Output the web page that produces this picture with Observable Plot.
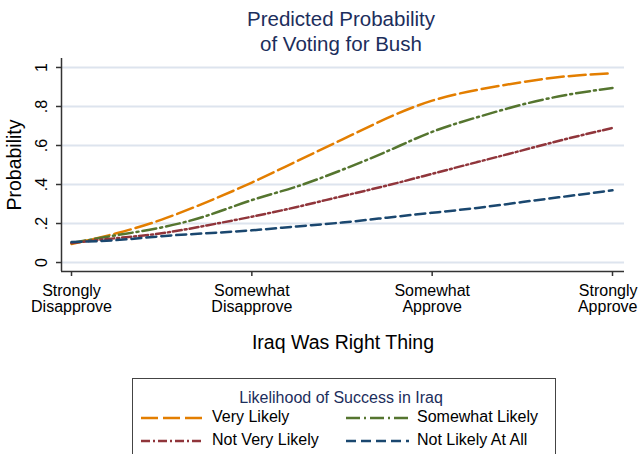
<!DOCTYPE html>
<html>
<head>
<meta charset="utf-8">
<script src="https://cdn.jsdelivr.net/npm/d3@7"></script>
<script src="https://cdn.jsdelivr.net/npm/@observablehq/plot@0.6"></script>
<style>
  html, body { margin: 0; padding: 0; background: #fff; }
  #wrap { position: relative; width: 638px; height: 454px; overflow: hidden; font-family: "Liberation Sans", Arial, sans-serif; }
  #title { position: absolute; left: 0; top: 6px; width: 682px; text-align: center; color: #1c2e5c; font-size: 20.5px; line-height: 25px; }
  #legend { position: absolute; left: 132px; top: 378px; width: 422px; height: 100px; border: 1px solid #444; background: #fff; }
  #legend .lt { position: absolute; left: 0; top: 10px; width: 416px; text-align: center; color: #1c2e5c; font-size: 16px; }
  #legend .item { position: absolute; font-size: 16px; color: #000; white-space: nowrap; }
  #legend svg { position: absolute; }
</style>
</head>
<body>
<div id="wrap">
  <div id="title">Predicted Probability<br>of Voting for Bush</div>
  <div id="chart"></div>
  <div id="legend"></div>
</div>
<script>
// ---- data ----
const xValues = [1, 1.25, 1.5, 1.75, 2, 2.25, 2.5, 2.75, 3, 3.25, 3.5, 3.75, 4];
const veryLikely      = [0.095, 0.15, 0.22, 0.31, 0.41, 0.52, 0.63, 0.74, 0.83, 0.885, 0.925, 0.955, 0.97];
const somewhatLikely  = [0.10, 0.14, 0.18, 0.24, 0.32, 0.39, 0.475, 0.57, 0.67, 0.745, 0.81, 0.86, 0.895];
const notVeryLikely   = [0.10, 0.125, 0.15, 0.19, 0.235, 0.285, 0.34, 0.395, 0.455, 0.515, 0.575, 0.635, 0.69];
const notLikelyAtAll  = [0.105, 0.115, 0.135, 0.15, 0.165, 0.185, 0.205, 0.23, 0.255, 0.28, 0.31, 0.34, 0.37];
const seriesNames = ["Very Likely", "Somewhat Likely", "Not Very Likely", "Not Likely At All"];
const xTicks = [1, 2, 3, 4];
const xTickLabels = ["Strongly\nDisapprove", "Somewhat\nDisapprove", "Somewhat\nApprove", "Strongly\nApprove"];
const yTicks = [0, 0.2, 0.4, 0.6, 0.8, 1];
const yTickLabels = ["0", ".2", ".4", ".6", ".8", "1"];

// ---- styles ----
const colors = ["#e37e00", "#55752f", "#90353b", "#1a476f"];
const dashes = ["17,5", "14,4,2,4", "9,3,2,3", "10,5"];

const seriesValues = [veryLikely, somewhatLikely, notVeryLikely, notLikelyAtAll];
const seriesRows = seriesNames.map((name, i) =>
  xValues.map((x, j) => ({series: name, x, y: seriesValues[i][j]}))
);

const xDomain = [0.9445, 4.0665];
const yDomain = [-0.046, 1.046];
const font = "Liberation Sans, Arial, sans-serif";
const tickLabel = (d) => xTickLabels[xTicks.indexOf(d)];

const chart = Plot.plot({
  width: 638,
  height: 454,
  marginLeft: 61,
  marginRight: 14,
  marginTop: 58,
  marginBottom: 183,
  style: {fontFamily: font, background: "transparent", color: "#000", fontSize: "15px"},
  x: {domain: xDomain},
  y: {domain: yDomain},
  marks: [
    Plot.gridY(yTicks, {stroke: "#dde4ee", strokeOpacity: 1, strokeWidth: 2}),
    Plot.ruleX([xDomain[0]], {stroke: "#333", strokeWidth: 1.5}),
    Plot.ruleY([yDomain[0]], {stroke: "#333", strokeWidth: 1.5}),
    Plot.axisY({
      ticks: yTicks,
      tickFormat: () => "",
      tickSize: 5,
      stroke: "#333",
      strokeWidth: 1.5,
      label: null
    }),
    Plot.text(yTicks, {
      x: () => xDomain[0],
      y: (d) => d,
      text: (d) => yTickLabels[yTicks.indexOf(d)],
      rotate: -90,
      fontSize: 16,
      textAnchor: "middle",
      lineAnchor: "middle",
      dx: -20,
      fill: "#000"
    }),
    Plot.axisY({
      ticks: [],
      label: "Probability",
      labelAnchor: "center",
      labelArrow: "none",
      labelOffset: 54,
      fontSize: 19.5
    }),
    Plot.axisX({
      ticks: xTicks,
      tickFormat: () => "",
      tickSize: 5,
      stroke: "#333",
      strokeWidth: 1.5,
      label: null
    }),
    Plot.axisX({
      ticks: xTicks.slice(0, 3),
      tickFormat: tickLabel,
      tickSize: 0,
      tickPadding: 13,
      fontSize: 16,
      lineHeight: 1,
      label: null
    }),
    Plot.axisX({
      ticks: xTicks.slice(3),
      tickFormat: tickLabel,
      tickSize: 0,
      tickPadding: 13,
      fontSize: 16,
      lineHeight: 1,
      textAnchor: "end",
      dx: 25,
      label: null
    }),
    Plot.axisX({
      ticks: [],
      label: "Iraq Was Right Thing",
      labelAnchor: "center",
      labelArrow: "none",
      labelOffset: 77,
      fontSize: 19.5
    }),
    ...seriesRows.map((rows, i) => Plot.line(rows, {
      x: "x", y: "y",
      stroke: colors[i],
      strokeDasharray: dashes[i],
      strokeWidth: 2.5,
      curve: "natural"
    }))
  ]
});
document.getElementById("chart").appendChild(chart);

// ---- legend ----
const legend = document.getElementById("legend");
legend.innerHTML = '<div class="lt">Likelihood of Success in Iraq</div>';
const pos = [[8, 39], [213, 39], [8, 62], [213, 62]];
seriesNames.forEach((name, i) => {
  const [lx, ly] = pos[i];
  const svgNS = "http://www.w3.org/2000/svg";
  const s = document.createElementNS(svgNS, "svg");
  s.setAttribute("width", 64); s.setAttribute("height", 6);
  s.style.left = lx + "px"; s.style.top = (ly - 3) + "px";
  const l = document.createElementNS(svgNS, "line");
  l.setAttribute("x1", 0); l.setAttribute("x2", 63); l.setAttribute("y1", 3); l.setAttribute("y2", 3);
  l.setAttribute("stroke", colors[i]); l.setAttribute("stroke-width", 2.5);
  l.setAttribute("stroke-dasharray", dashes[i]);
  s.appendChild(l);
  legend.appendChild(s);
  const t = document.createElement("div");
  t.className = "item";
  t.textContent = name;
  t.style.left = (lx + 71) + "px";
  t.style.top = (ly - 10) + "px";
  legend.appendChild(t);
});
</script>
</body>
</html>
